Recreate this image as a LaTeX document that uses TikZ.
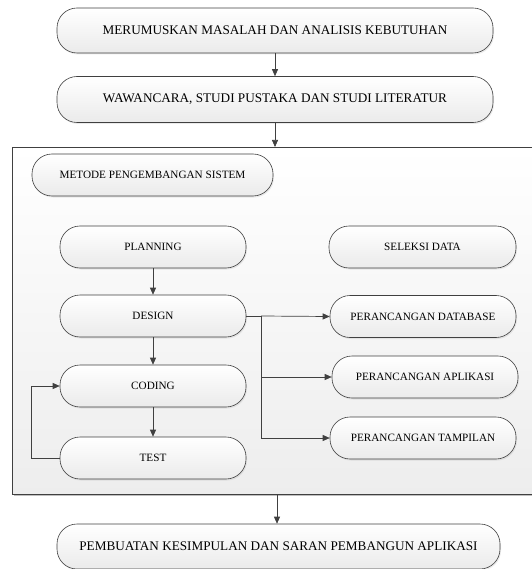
\documentclass[tikz,border=0pt]{standalone}
\usepackage{fontspec}
\setmainfont{Liberation Serif}
\usetikzlibrary{arrows.meta,shadows}
\tikzset{
  pill/.style={draw=black!75, line width=0.6pt, rounded corners=20pt,
    top color=white, bottom color=black!8, align=center,
    drop shadow={shadow xshift=1pt, shadow yshift=-1.5pt, opacity=0.2, fill=black!40}},
  bigpill/.style={pill, font=\fontsize{13.2}{15}\selectfont},
  smallpill/.style={pill, font=\fontsize{11.2}{13}\selectfont},
  arr/.style={draw=black!75, line width=0.7pt, -{Triangle[length=7pt,width=6pt]}},
  ln/.style={draw=black!75, line width=0.7pt},
}
\begin{document}
\begin{tikzpicture}[x=1pt,y=-1pt]
\useasboundingbox (0,0) rectangle (531,569);
% container
\fill[black!25] (14,149) rectangle (533,496);
\path[top color=white, bottom color=black!7] (12,147) rectangle (533,494);
\draw[black!75, line width=0.8pt] (533,147) -- (12,147) -- (12,494) -- (533,494);
\coordinate (ctop) at (275,147);
\coordinate (cbot) at (277,494);
% outer boxes
\node[bigpill, minimum width=436pt, minimum height=45pt] (b1) at (275,30.5) {MERUMUSKAN MASALAH DAN ANALISIS KEBUTUHAN};
\node[bigpill, minimum width=436pt, minimum height=46pt] (b2) at (275,99.5) {WAWANCARA, STUDI PUSTAKA DAN STUDI LITERATUR};
\node[bigpill, minimum width=443pt, minimum height=45pt] (b3) at (278.5,546.5) {PEMBUATAN KESIMPULAN DAN SARAN PEMBANGUN APLIKASI};
% inner boxes
\node[smallpill, minimum width=241pt, minimum height=42pt] (met) at (152.5,175) {METODE PENGEMBANGAN SISTEM};
\node[smallpill, minimum width=186pt, minimum height=42pt] (plan) at (153,247) {PLANNING};
\node[smallpill, minimum width=186pt, minimum height=42pt] (des) at (153,316) {DESIGN};
\node[smallpill, minimum width=186pt, minimum height=42pt] (cod) at (153,386) {CODING};
\node[smallpill, minimum width=186pt, minimum height=42pt] (tst) at (153,458) {TEST};
\node[smallpill, minimum width=187pt, minimum height=42pt] (sel) at (422.5,247) {SELEKSI DATA};
\node[smallpill, minimum width=186pt, minimum height=42pt] (pdb) at (423,316.5) {PERANCANGAN DATABASE};
\node[smallpill, minimum width=186pt, minimum height=42pt] (pap) at (425,377) {PERANCANGAN APLIKASI};
\node[smallpill, minimum width=186pt, minimum height=42pt] (ptm) at (423,438) {PERANCANGAN TAMPILAN};
% connectors
\draw[arr] (b1.south) -- (b2.north);
\draw[arr] (b2.south) -- (ctop);
\draw[arr] (cbot) -- (b3.north -| cbot);
\draw[arr] (plan) -- (des);
\draw[arr] (des) -- (cod);
\draw[arr] (cod) -- (tst);
\draw[arr] (tst.west) -- ++(-28,0) |- (cod.west);
\coordinate (br) at (261,316);
\draw[ln] (des.east) -- (br);
\draw[arr] (br) -- (pdb.west);
\draw[arr] (br) |- (pap.west);
\draw[arr] (br) |- (ptm.west);
\end{tikzpicture}
\end{document}
